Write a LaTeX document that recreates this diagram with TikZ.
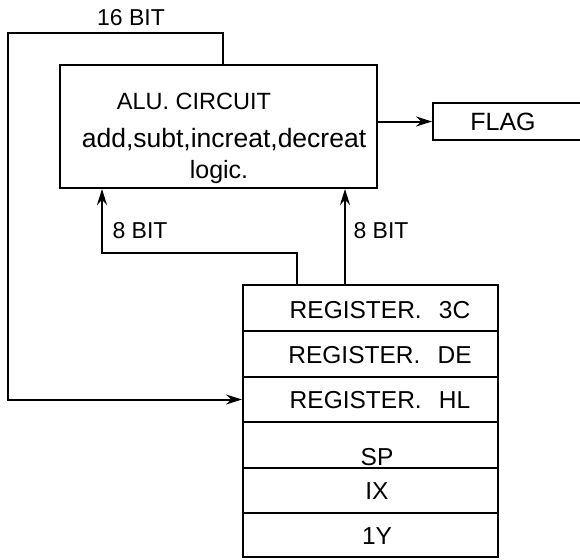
\documentclass[tikz,border=0pt]{standalone}
\usepackage{fontspec}
\setmainfont{Liberation Sans}
\usetikzlibrary{arrows.meta}
\begin{document}
\begin{tikzpicture}[x=1pt,y=-1pt,
  line width=2pt,
  txt/.style={inner sep=0pt,font=\fontsize{23}{26}\selectfont},
  regtxt/.style={inner sep=0pt,font=\fontsize{24.5}{26}\selectfont},
  box/.style={draw,inner sep=0pt,rectangle},
  regrow/.style={box,minimum width=255pt,minimum height=45.3pt},
  arr/.style={-{Stealth[length=16pt,width=10pt]}}]
\useasboundingbox (0,0) rectangle (580,559);
% ALU
\node[box,minimum width=317pt,minimum height=123pt] (alu) at (218.5,126.5) {};
\node[txt,font=\fontsize{23.5}{26}\selectfont] (alut) at (194,101) {ALU. CIRCUIT};
\node[txt,font=\fontsize{26.5}{28}\selectfont] (ops) at (224,140) {add,subt,increat,decreat};
\node[txt,font=\fontsize{25}{26}\selectfont] (logic) at (219,172) {logic.};
% FLAG
\node[box,minimum width=150pt,minimum height=37pt] (flag) at (508,121.5) {};
\node[txt,font=\fontsize{25}{26}\selectfont] (flagt) at (503,122) {FLAG};
% registers
\node[regrow] (r1) at (370.5,308) {};
\node[regrow] (r2) at (370.5,354) {};
\node[regrow] (r3) at (370.5,399.5) {};
\node[regrow] (r4) at (370.5,445) {};
\node[regrow] (r5) at (370.5,490.5) {};
\node[regrow,minimum height=44pt] (r6) at (370.5,535) {};
\node[regtxt] (r1t) at (380,310) {REGISTER.\hspace{0.7em}3C};
\node[regtxt] (r2t) at (380,355) {REGISTER.\hspace{0.7em}DE};
\node[regtxt] (r3t) at (380,400) {REGISTER.\hspace{0.7em}HL};
\node[regtxt] (r4t) at (377,457) {SP};
\node[regtxt] (r5t) at (377,491) {IX};
\node[regtxt] (r6t) at (377,536) {1Y};
% labels
\node[txt] (l16) at (131,18) {16 BIT};
\node[txt] (l8a) at (140,231) {8 BIT};
\node[txt] (l8b) at (381,231) {8 BIT};
% connectors
\coordinate (a16) at (223,65);
\coordinate (c2) at (8,33);
\draw[arr] (a16) |- (c2) -- (c2 |- r3.west) -- (r3.west);
\coordinate (t1) at (297,285.5);
\coordinate (c1) at (102,253);
\draw[arr] (t1) |- (c1) -- (c1 |- alu.south);
\coordinate (t2) at (345,285.5);
\draw[arr] (t2) -- (t2 |- alu.south);
\draw[arr] (flag.west -| alu.east) -- (flag.west);
\end{tikzpicture}
\end{document}
